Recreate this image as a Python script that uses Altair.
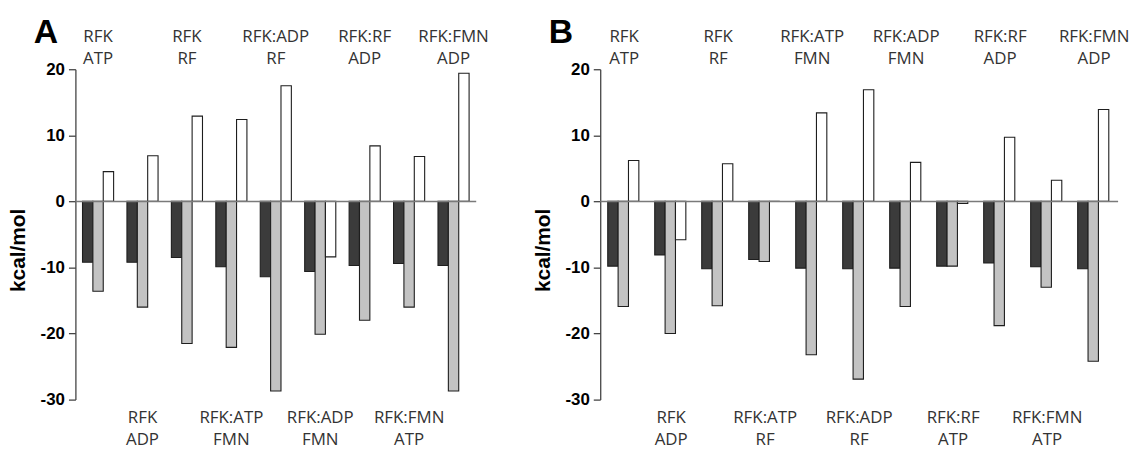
import altair as alt
import pandas as pd

# three energy terms per complex, drawn as dark / light / open bars
SERIES = ["E1", "E2", "E3"]
FILLS = ["#3b3b3b", "#c3c3c3", "#ffffff"]

# panel A
a_groups = ["RFK\nATP", "RFK\nADP", "RFK\nRF", "RFK:ATP\nFMN", "RFK:ADP\nRF",
            "RFK:ADP\nFMN", "RFK:RF\nADP", "RFK:FMN\nATP", "RFK:FMN\nADP"]
a_e1 = [-9.2, -9.2, -8.5, -9.9, -11.4, -10.6, -9.7, -9.4, -9.7]
a_e2 = [-13.6, -16.0, -21.5, -22.1, -28.7, -20.1, -18.0, -16.0, -28.7]
a_e3 = [4.5, 6.9, 12.9, 12.4, 17.5, -8.4, 8.4, 6.8, 19.4]

# panel B
b_groups = ["RFK\nATP", "RFK\nADP", "RFK\nRF", "RFK:ATP\nRF", "RFK:ATP\nFMN",
            "RFK:ADP\nRF", "RFK:ADP\nFMN", "RFK:RF\nATP", "RFK:RF\nADP",
            "RFK:FMN\nATP", "RFK:FMN\nADP"]
b_e1 = [-9.8, -8.1, -10.2, -8.8, -10.1, -10.2, -10.1, -9.8, -9.3, -9.9, -10.2]
b_e2 = [-15.9, -20.0, -15.8, -9.1, -23.2, -26.9, -15.9, -9.8, -18.8, -13.0, -24.2]
b_e3 = [6.2, -5.8, 5.7, 0.0, 13.4, 16.9, 5.9, -0.3, 9.7, 3.2, 13.9]

Y_TICKS = list(range(-30, 21, 5))
PLOT_H = 333


def panel(letter, groups, e1, e2, e3, width, letter_x):
    rows = []
    for g, v1, v2, v3 in zip(groups, e1, e2, e3):
        rows += [{"group": g, "series": "E1", "value": v1},
                 {"group": g, "series": "E2", "value": v2},
                 {"group": g, "series": "E3", "value": v3}]
    df = pd.DataFrame(rows)

    x_enc = alt.X("group:N", sort=groups,
                  scale=alt.Scale(domain=groups, paddingInner=0.3, paddingOuter=0.16),
                  axis=None)

    y_axis = alt.Axis(
        title="kcal/mol", values=Y_TICKS,
        labelExpr="datum.value % 10 === 0 ? '' + datum.value : ''",
        labelFont="Liberation Sans", labelFontSize=17, labelFontWeight="bold",
        labelColor="black", labelPadding=4,
        tickSize={"condition": {"test": "datum.value % 10 === 0", "value": 7}, "value": 4},
        tickColor="#444", tickWidth=1.3, domainColor="#444", domainWidth=1.3,
        grid=False,
        titleFont="Liberation Sans", titleFontSize=21, titleFontWeight="bold",
        titleColor="black", titleX=-47, titleY=182,
    )

    bars = alt.Chart(df).mark_bar(stroke="#1e1e1e", strokeWidth=1.1).encode(
        x=x_enc,
        xOffset=alt.XOffset("series:N", sort=SERIES,
                            scale=alt.Scale(domain=SERIES, paddingInner=0, paddingOuter=0)),
        y=alt.Y("value:Q", scale=alt.Scale(domain=[-30, 20], nice=False), axis=y_axis),
        fill=alt.Fill("series:N", scale=alt.Scale(domain=SERIES, range=FILLS), legend=None),
    )

    one = pd.DataFrame({"k": [0]})
    zero_line = alt.Chart(one).mark_rule(color="#7a7a7a", strokeWidth=1.5).encode(
        y=alt.datum(0)
    )

    top_df = pd.DataFrame({"group": groups[0::2]})
    bot_df = pd.DataFrame({"group": groups[1::2]})
    label_style = dict(font="Open Sans", fontSize=17, color="#333333", lineBreak="\n",
                       lineHeight=22, align="center", baseline="alphabetic")
    top_labels = alt.Chart(top_df).mark_text(**label_style).encode(
        x=x_enc, y=alt.value(-27), text="group:N"
    )
    bot_labels = alt.Chart(bot_df).mark_text(**label_style).encode(
        x=x_enc, y=alt.value(PLOT_H + 24), text="group:N"
    )

    tag = alt.Chart(one).mark_text(
        text=letter, font="Liberation Sans", fontSize=34, fontWeight="bold",
        align="left", baseline="alphabetic", color="black"
    ).encode(x=alt.value(letter_x), y=alt.value(-26))

    return alt.layer(bars, zero_line, top_labels, bot_labels, tag).properties(
        width=width, height=PLOT_H
    )


chart_a = panel("A", a_groups, a_e1, a_e2, a_e3, 404, -42)
chart_b = panel("B", b_groups, b_e1, b_e2, b_e3, 522, -52)

chart = alt.hconcat(chart_a, chart_b, spacing=44).properties(
    padding={"left": 8, "top": 15, "right": 0, "bottom": 0}
).configure_view(strokeWidth=0)

chart.save("out.html", embed_options={"renderer": "svg", "actions": False})
